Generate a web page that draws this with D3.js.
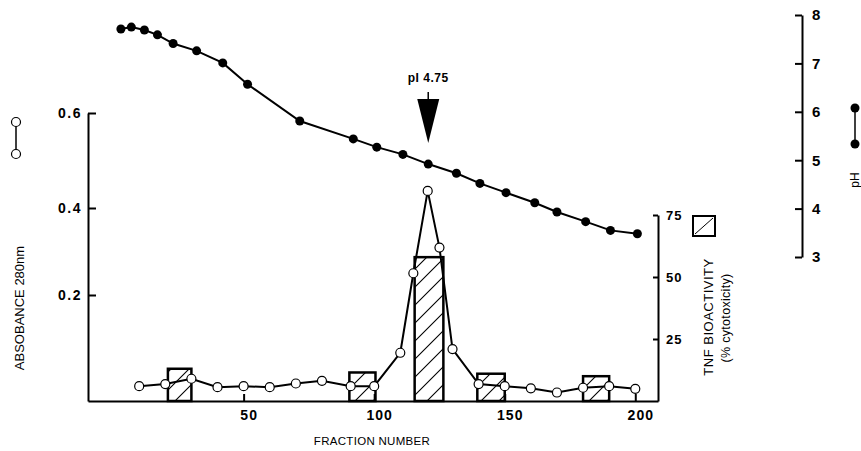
<!DOCTYPE html>
<html>
<head>
<meta charset="utf-8">
<script src="https://cdn.jsdelivr.net/npm/d3@7/dist/d3.min.js"></script>
<style>
  body { margin: 0; background: #fff; }
  svg { font-family: "Liberation Sans", Arial, sans-serif; }
</style>
</head>
<body>
<svg></svg>
<script>
// absorbance at 280nm (open circles)
const absFraction = [10, 20, 30, 40, 50, 60, 70, 80, 91, 100, 110, 115, 120.5, 125, 130, 140, 150, 160, 170, 180, 190, 200]
const absorbance = [0.028, 0.032, 0.042, 0.026, 0.028, 0.026, 0.033, 0.038, 0.028, 0.028, 0.091, 0.250, 0.436, 0.309, 0.098, 0.032, 0.028, 0.024, 0.016, 0.025, 0.028, 0.023]

// pH gradient (filled circles)
const phFraction = [3, 7, 12, 17, 23, 32, 42, 51.5, 71.5, 92, 101, 111, 120.7, 131.5, 140.5, 150.5, 161.5, 170, 181, 190.5, 200.8]
const phValues = [7.71, 7.75, 7.69, 7.59, 7.41, 7.26, 7.01, 6.57, 5.81, 5.44, 5.27, 5.12, 4.92, 4.73, 4.52, 4.33, 4.12, 3.93, 3.73, 3.55, 3.48]

// TNF bioactivity of pooled fractions (hatched bars)
const poolStart = [21, 90.5, 115.5, 139.5, 180]
const poolEnd = [30, 100.5, 126.5, 150, 190]
const tnfActivity = [13, 11.5, 58, 11, 10]

// tick labels
const fractionTicks = [50, 100, 150, 200]
const absTicks = [0.2, 0.4, 0.6]
const tnfTicks = [25, 50, 75]
const phTicks = [3, 4, 5, 6, 7, 8]

const pI = 4.75, pIFraction = 120.7

const svg = d3.select("svg").attr("width", 861).attr("height", 451)

const x = d3.scaleLinear().domain([-9.6, 208.7]).range([88, 658]),
      yAbs = d3.scaleLinear().domain([0, 0.2, 0.4, 0.6]).range([401, 295, 208, 113]),
      yTnf = d3.scaleLinear().domain([0, 75]).range([401, 215]),
      yPh = d3.scaleLinear().domain([3, 8]).range([257, 15])

svg.append("rect").attr("width", 861).attr("height", 451).style("fill", "white")

svg.append("defs").append("pattern").attr("id", "hatch").attr("patternUnits", "userSpaceOnUse")
  .attr("width", 18).attr("height", 18)
  .append("path").attr("d", "M-2,20 L20,-2 M-2,2 L2,-2 M16,20 L20,16").style("stroke", "black").style("stroke-width", 1.1)

// bars
const pools = poolStart.map((s, i) => ({start: s, end: poolEnd[i], value: tnfActivity[i]}))
svg.append("g").selectAll("rect").data(pools).join("rect")
  .attr("x", d => x(d.start)).attr("width", d => x(d.end) - x(d.start))
  .attr("y", d => yTnf(d.value)).attr("height", d => yTnf(0) - yTnf(d.value))
  .style("fill", "url(#hatch)").style("stroke", "black").style("stroke-width", 2.5)

const styleAxis = g => {
  g.attr("font-family", null).attr("font-size", null)
  g.selectAll("path, line").style("stroke", "black").style("stroke-width", 2)
  g.selectAll("text").style("font-size", "14px").style("font-weight", "bold").style("letter-spacing", "1px").style("fill", "black")
}

svg.append("g").attr("transform", `translate(0,${yAbs(0)})`)
  .call(d3.axisBottom(x).tickValues(fractionTicks).tickSize(-7).tickSizeOuter(0).tickPadding(9))
  .call(styleAxis)
  .selectAll("text").attr("dx", 5)

svg.append("g").attr("transform", `translate(${x(-9.6)},0)`)
  .call(d3.axisLeft(yAbs).tickValues(absTicks).tickFormat(d3.format(".1f")).tickSize(-8).tickSizeOuter(0).tickPadding(6))
  .call(styleAxis)
  .selectAll("text").style("letter-spacing", "1.5px")

svg.append("g").attr("transform", `translate(${x(208.7)},0)`)
  .call(d3.axisRight(yTnf).tickValues(tnfTicks).tickSize(-5).tickSizeOuter(0).tickPadding(8))
  .call(styleAxis)
  .selectAll("text").style("font-size", "13px")

svg.append("g").attr("transform", "translate(802,0)")
  .call(d3.axisRight(yPh).tickValues(phTicks).tickFormat(d3.format("d")).tickSize(-7).tickSizeOuter(0).tickPadding(10))
  .call(styleAxis)
  .selectAll("text").style("font-size", "15px")

// pH curve
const phData = phFraction.map((f, i) => ({f, v: phValues[i]}))
svg.append("path").datum(phData)
  .attr("d", d3.line().x(d => x(d.f)).y(d => yPh(d.v)))
  .style("fill", "none").style("stroke", "black").style("stroke-width", 2)
svg.append("g").selectAll("circle").data(phData).join("circle")
  .attr("cx", d => x(d.f)).attr("cy", d => yPh(d.v)).attr("r", 4.5).style("fill", "black")

// absorbance curve
const absData = absFraction.map((f, i) => ({f, v: absorbance[i]}))
svg.append("path").datum(absData)
  .attr("d", d3.line().x(d => x(d.f)).y(d => yAbs(d.v)))
  .style("fill", "none").style("stroke", "black").style("stroke-width", 2)
svg.append("g").selectAll("circle").data(absData).join("circle")
  .attr("cx", d => x(d.f)).attr("cy", d => yAbs(d.v)).attr("r", 4.5)
  .style("fill", "white").style("stroke", "black").style("stroke-width", 1.2)

// pI arrow
const ax = x(pIFraction)
svg.append("line").attr("x1", ax).attr("x2", ax).attr("y1", 92).attr("y2", 100).style("stroke", "black").style("stroke-width", 1.5)
svg.append("path").attr("d", `M${ax - 11},99 L${ax + 11},99 L${ax},143 Z`).style("fill", "black")
svg.append("text").text(`pI ${pI}`).attr("x", ax).attr("y", 82).style("text-anchor", "middle")
  .style("font-size", "12px").style("font-weight", "bold").style("letter-spacing", "0.5px")

// titles
svg.append("text").text("FRACTION NUMBER").attr("x", 372).attr("y", 445).style("text-anchor", "middle")
  .style("font-size", "11.5px").style("letter-spacing", "0.3px")

svg.append("text").text("ABSOBANCE 280nm").attr("transform", "translate(24,308) rotate(-90)").style("text-anchor", "middle")
  .style("font-size", "13px")

svg.append("text").text("TNF BIOACTIVITY").attr("transform", "translate(713,317) rotate(-90)").style("text-anchor", "middle")
  .style("font-size", "13px").style("letter-spacing", "0.5px")
svg.append("text").text("(% cytotoxicity)").attr("transform", "translate(730,318) rotate(-90)").style("text-anchor", "middle")
  .style("font-size", "12.5px").style("letter-spacing", "0.3px")

svg.append("text").text("pH").attr("transform", "translate(859,180) rotate(-90)").style("text-anchor", "middle")
  .style("font-size", "12px")

// legends
svg.append("line").attr("x1", 16).attr("x2", 16).attr("y1", 122).attr("y2", 154).style("stroke", "black").style("stroke-width", 1.5)
svg.append("g").selectAll("circle").data([122, 154]).join("circle")
  .attr("cx", 16).attr("cy", d => d).attr("r", 4.5).style("fill", "white").style("stroke", "black").style("stroke-width", 1.2)

svg.append("line").attr("x1", 855).attr("x2", 855).attr("y1", 108).attr("y2", 144).style("stroke", "black").style("stroke-width", 1.5)
svg.append("g").selectAll("circle").data([108, 144]).join("circle")
  .attr("cx", 855).attr("cy", d => d).attr("r", 4.5).style("fill", "black")

svg.append("rect").attr("x", 693).attr("y", 216).attr("width", 22).attr("height", 20)
  .style("fill", "white").style("stroke", "black").style("stroke-width", 2)
svg.append("line").attr("x1", 695).attr("y1", 234).attr("x2", 713).attr("y2", 218).style("stroke", "black").style("stroke-width", 1)
</script>
</body>
</html>
